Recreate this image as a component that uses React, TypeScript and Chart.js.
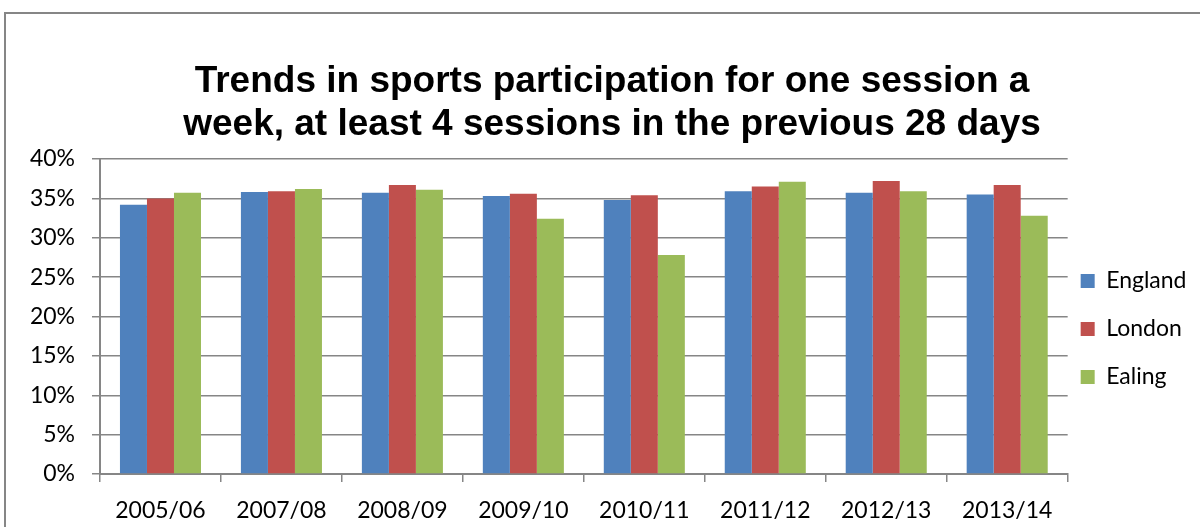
import React, { useEffect, useRef } from "react";
import { Chart, registerables } from "chart.js";

Chart.register(...registerables);

const categories = ["2005/06", "2007/08", "2008/09", "2009/10", "2010/11", "2011/12", "2012/13", "2013/14"];
const england = [34.2, 35.8, 35.7, 35.3, 34.8, 35.9, 35.7, 35.5];
const london = [35.0, 35.9, 36.7, 35.6, 35.4, 36.5, 37.2, 36.7];
const ealing = [35.7, 36.2, 36.1, 32.4, 27.8, 37.1, 35.9, 32.8];
const seriesNames = ["England", "London", "Ealing"];
const seriesColors = ["#4F81BD", "#C0504D", "#9BBB59"];
const titleLines = [
  "Trends in sports participation for one session a",
  "week, at least 4 sessions in the previous 28 days",
];
const yMin = 0;
const yMax = 40;
const yStep = 5;

const FONT = "Lato, 'Liberation Sans', sans-serif";
const GRID = "#868686";

export default function App() {
  const ref = useRef<HTMLCanvasElement>(null);

  useEffect(() => {
    const seriesValues = [england, london, ealing];
    const chart = new Chart(ref.current as HTMLCanvasElement, {
      type: "bar",
      data: {
        labels: categories,
        datasets: seriesNames.map((name, i) => ({
          label: name,
          data: seriesValues[i],
          backgroundColor: seriesColors[i],
          borderWidth: 0,
          categoryPercentage: 0.67,
          barPercentage: 1.0,
        })),
      },
      options: {
        responsive: false,
        animation: false,
        devicePixelRatio: 1,
        layout: { padding: { top: 0, left: 27.5, right: 3.5, bottom: 0 } },
        plugins: {
          tooltip: { enabled: false },
          title: {
            display: true,
            text: titleLines,
            color: "#000",
            font: { family: "'Liberation Sans', Arial, sans-serif", size: 37, weight: "bold", lineHeight: 43 / 37 },
            padding: { top: 60, bottom: 13 },
          },
          legend: {
            position: "right",
            title: { display: true, text: " ", padding: 0, font: { size: 10, lineHeight: 14.3 } },
            labels: {
              boxWidth: 14,
              boxHeight: 14,
              padding: 13,
              color: "#000",
              font: { family: FONT, size: 23, lineHeight: 35 / 23 },
              generateLabels: (c: any) =>
                (Chart.defaults.plugins.legend.labels.generateLabels as any)(c).map((l: any) => ({
                  ...l,
                  text: [l.text],
                })),
            },
          },
        },
        scales: {
          x: {
            grid: {
              display: true,
              drawOnChartArea: false,
              drawTicks: true,
              tickLength: 8,
              color: GRID,
              lineWidth: 1.5,
              offset: true,
            },
            border: { display: true, color: GRID, width: 2 },
            ticks: {
              color: "#000",
              font: { family: FONT, size: 23 },
              padding: 15,
              maxRotation: 0,
              autoSkip: false,
            },
            afterFit: (s: any) => {
              s.height = 53;
            },
          },
          y: {
            min: yMin,
            max: yMax,
            grid: { color: GRID, lineWidth: 1.5, drawTicks: true, tickLength: 8 },
            border: { display: true, color: GRID, width: 2 },
            ticks: {
              stepSize: yStep,
              color: "#000",
              font: { family: FONT, size: 23 },
              padding: 17,
              callback: (v: any) => v + "%",
            },
            afterFit: (s: any) => {
              s.width = 72.5;
            },
          },
        },
      },
    });
    return () => chart.destroy();
  }, []);

  return (
    <div
      style={{
        position: "fixed",
        left: 0,
        top: 0,
        width: 1200,
        height: 527,
        overflow: "hidden",
        background: "#fff",
      }}
    >
      <div
        style={{
          position: "absolute",
          left: 4,
          top: 12,
          width: 1300,
          height: 600,
          border: `2px solid ${GRID}`,
          boxSizing: "border-box",
        }}
      />
      <canvas ref={ref} width={1200} height={527} style={{ position: "absolute", left: 0, top: 0 }} />
    </div>
  );
}
